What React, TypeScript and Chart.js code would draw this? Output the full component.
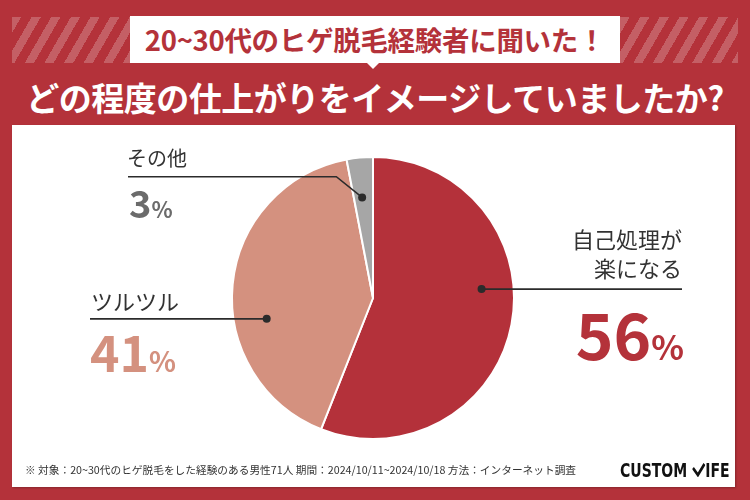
import React, { useEffect, useRef } from "react";
import { Chart, registerables } from "chart.js";

Chart.register(...registerables);

const categories = ["自己処理が楽になる", "ツルツル", "その他"];
const values = [56, 41, 3];
const sliceColors = ["#b4313a", "#d4917f", "#a6a6a6"];
const title = "20~30代のヒゲ脱毛経験者に聞いた！";
const question = "どの程度の仕上がりをイメージしていましたか?";
const footnote = "※ 対象：20~30代のヒゲ脱毛をした経験のある男性71人 期間：2024/10/11~2024/10/18 方法：インターネット調査";

const RED = "#b4323a";
const FONT = "'Noto Sans CJK JP', 'Noto Sans', sans-serif";

const leaderPlugin = {
  id: "leaders",
  afterDatasetsDraw(chart: any) {
    const arcs = chart.getDatasetMeta(0).data;
    if (!arcs.length) return;
    const { x: cx, y: cy, outerRadius: r } = arcs[0].getProps(["x", "y", "outerRadius"], true);
    const ctx = chart.ctx;
    const pt = (dx: number, dy: number) => [cx + dx * r, cy + dy * r];
    const leaders = [
      { dot: pt(0.77, -0.063), path: [pt(0.77, -0.063), [682, cy - 0.063 * r]] },
      { dot: pt(-0.754, 0.148), path: [pt(-0.754, 0.148), [90, cy + 0.148 * r]] },
      { dot: pt(-0.077, -0.713), path: [pt(-0.077, -0.713), pt(-0.26, -0.86), [128, cy - 0.86 * r]] },
    ];
    ctx.save();
    ctx.strokeStyle = "#2b2b2b";
    ctx.fillStyle = "#2b2b2b";
    ctx.lineWidth = 1.6;
    for (const l of leaders) {
      ctx.beginPath();
      l.path.forEach((p: number[], i: number) => (i ? ctx.lineTo(p[0], p[1]) : ctx.moveTo(p[0], p[1])));
      ctx.stroke();
      ctx.beginPath();
      ctx.arc(l.dot[0], l.dot[1], 4, 0, Math.PI * 2);
      ctx.fill();
    }
    ctx.restore();
  },
};

function PieChart() {
  const ref = useRef<HTMLCanvasElement>(null);
  useEffect(() => {
    const chart = new Chart(ref.current!, {
      type: "pie",
      data: {
        labels: categories,
        datasets: [
          {
            data: values,
            backgroundColor: sliceColors,
            borderColor: "#ffffff",
            borderWidth: 2,
          },
        ],
      },
      options: {
        responsive: false,
        animation: false,
        layout: { padding: { top: 156, bottom: 60, left: 231, right: 235 } },
        plugins: { legend: { display: false }, tooltip: { enabled: false } },
      },
      plugins: [leaderPlugin],
    });
    return () => chart.destroy();
  }, []);
  return (
    <canvas
      ref={ref}
      width={750}
      height={500}
      style={{ position: "absolute", left: 0, top: 0, width: 750, height: 500 }}
    />
  );
}

export default function App() {
  useEffect(() => {
    document.body.style.margin = "0";
  }, []);
  const stripes =
    "repeating-linear-gradient(120deg, rgba(255,255,255,0.22) 0px, rgba(255,255,255,0.22) 8px, transparent 8px, transparent 17px)";
  const abs = (s: React.CSSProperties): React.CSSProperties => ({ position: "absolute", ...s });
  return (
    <div style={{ position: "relative", width: 750, height: 500, background: RED, overflow: "hidden", fontFamily: FONT }}>
      <div style={abs({ left: 12, top: 17, width: 726, height: 46, background: stripes })} />
      <div
        style={abs({
          left: 130,
          top: 16,
          width: 490,
          height: 47,
          background: "#fff",
          color: RED,
          fontWeight: 700,
          fontSize: 27.5,
          lineHeight: "46px",
          textAlign: "center",
          letterSpacing: -0.3,
          whiteSpace: "nowrap",
        })}
      >
        {title}
      </div>
      <div
        style={abs({
          left: 366,
          top: 62,
          width: 0,
          height: 0,
          borderLeft: "7px solid transparent",
          borderRight: "7px solid transparent",
          borderTop: "7px solid #fff",
        })}
      />
      <div
        style={abs({
          left: 0,
          top: 74,
          width: 750,
          textAlign: "center",
          color: "#fff",
          fontWeight: 700,
          fontSize: 33,
          lineHeight: "46px",
          letterSpacing: -0.5,
          whiteSpace: "nowrap",
        })}
      >
        {question}
      </div>
      <div style={abs({ left: 12, top: 125, width: 723, height: 362, background: "#fff", boxShadow: "1px 1px 2px rgba(0,0,0,0.25)" })} />
      <PieChart />
      <div style={abs({ left: 127, top: 144, fontSize: 20, color: "#333", lineHeight: "28px" })}>その他</div>
      <div style={abs({ left: 129, top: 180, color: "#6b6b6b", fontWeight: 700, lineHeight: "44px", whiteSpace: "nowrap" })}>
        <span style={{ fontSize: 38 }}>3</span>
        <span style={{ fontSize: 22 }}>%</span>
      </div>
      <div style={abs({ left: 91, top: 285, fontSize: 22, color: "#333", lineHeight: "30px" })}>ツルツル</div>
      <div style={abs({ left: 90, top: 320, color: "#d4917f", fontWeight: 700, lineHeight: "60px", whiteSpace: "nowrap" })}>
        <span style={{ fontSize: 50 }}>41</span>
        <span style={{ fontSize: 28 }}>%</span>
      </div>
      <div
        style={abs({ left: 480, top: 224, width: 202, fontSize: 22, color: "#333", lineHeight: "29px", textAlign: "right" })}
      >
        自己処理が
        <br />
        楽になる
      </div>
      <div
        style={abs({ left: 480, top: 296, width: 204, color: RED, fontWeight: 700, lineHeight: "72px", textAlign: "right", whiteSpace: "nowrap" })}
      >
        <span style={{ fontSize: 64 }}>56</span>
        <span style={{ fontSize: 34 }}>%</span>
      </div>
      <div style={abs({ left: 25, top: 461, fontSize: 10.7, color: "#333", lineHeight: "18px", whiteSpace: "nowrap", letterSpacing: 0 })}>
        {footnote}
      </div>
      <div
        style={abs({
          left: 620,
          top: 457,
          fontSize: 19,
          fontWeight: 700,
          color: "#111",
          lineHeight: "26px",
          whiteSpace: "nowrap",
          fontFamily: "'Liberation Sans Narrow', 'DejaVu Sans Condensed', sans-serif",
          transform: "scaleX(0.82)",
          transformOrigin: "left center",
          display: "flex",
          alignItems: "center",
        })}
      >
        CUSTOM
        <svg width="16" height="14" viewBox="0 0 16 14" style={{ marginLeft: 6 }}>
          <polyline points="1,5 7,12 15,1" fill="none" stroke="#111" strokeWidth="3" />
        </svg>
        IFE
      </div>
    </div>
  );
}
